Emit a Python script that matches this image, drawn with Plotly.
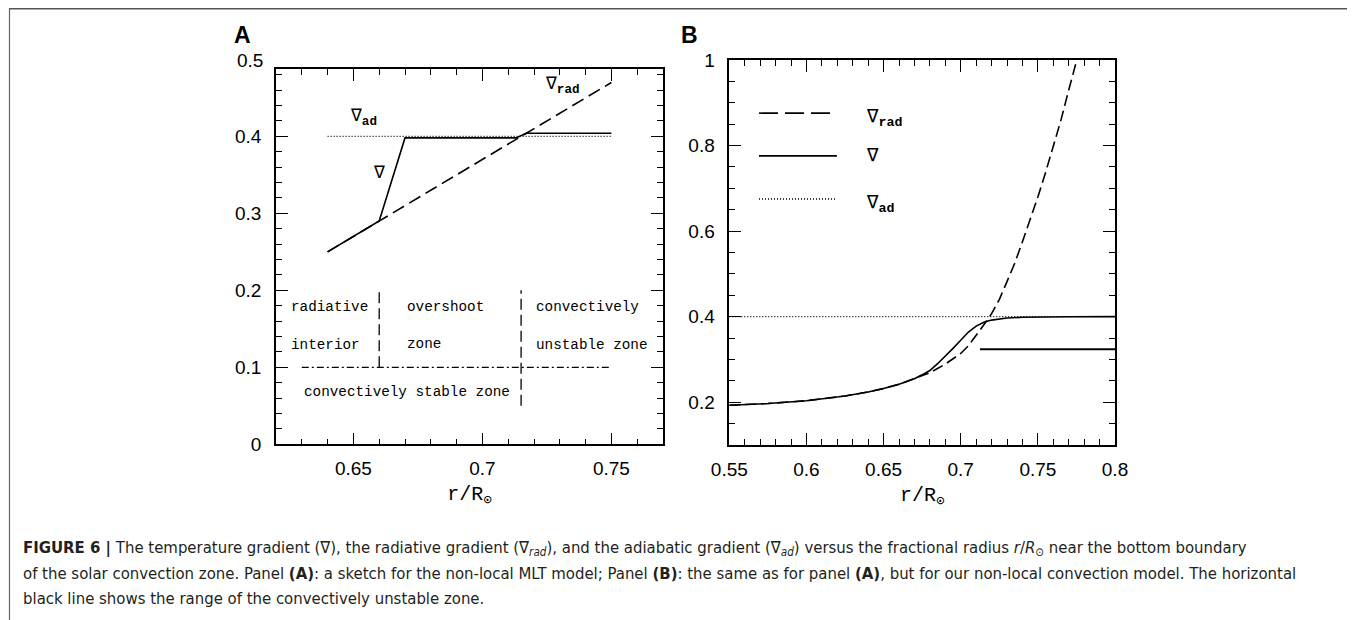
import plotly.graph_objects as go

# ---------------- data: panel A (sketch, non-local MLT) ----------------
a_rad_x = [0.64, 0.75]
a_rad_y = [0.25, 0.47]
a_grad_x = [0.64, 0.66, 0.67, 0.713, 0.717, 0.75]
a_grad_y = [0.25, 0.29, 0.398, 0.398, 0.404, 0.404]
a_ad_x = [0.64, 0.75]
a_ad_y = [0.40, 0.40]
a_stable_x = [0.63, 0.75]
a_stable_y = [0.10, 0.10]
a_div1_x = [0.66, 0.66]
a_div1_y = [0.10, 0.20]
a_div2_x = [0.715, 0.715]
a_div2_y = [0.05, 0.20]
a_zone_text = ["radiative", "interior", "overshoot", "zone", "convectively",
               "unstable zone", "convectively stable zone"]
a_zone_x = [0.625, 0.625, 0.670, 0.670, 0.720, 0.720, 0.630]
a_zone_y = [0.178, 0.129, 0.178, 0.130, 0.178, 0.129, 0.068]

# ---------------- data: panel B (non-local convection model) ----------------
b_rad_x = [0.55, 0.575, 0.60, 0.625, 0.64, 0.65, 0.66, 0.67, 0.68, 0.69, 0.70,
           0.705, 0.71, 0.715, 0.72, 0.725, 0.73, 0.735, 0.74, 0.745, 0.75,
           0.755, 0.76, 0.765, 0.77, 0.776]
b_rad_y = [0.193, 0.197, 0.2035, 0.2145, 0.2240, 0.232, 0.242, 0.255, 0.269,
           0.289, 0.314, 0.332, 0.356, 0.381, 0.407, 0.440, 0.482, 0.525, 0.575,
           0.625, 0.680, 0.737, 0.797, 0.860, 0.930, 1.010]
b_grad_x = [0.55, 0.575, 0.60, 0.625, 0.64, 0.65, 0.66, 0.67, 0.675, 0.68, 0.685,
            0.69, 0.695, 0.70, 0.705, 0.71, 0.715, 0.72, 0.725, 0.73, 0.74, 0.75,
            0.77, 0.80]
b_grad_y = [0.193, 0.197, 0.2035, 0.2145, 0.2240, 0.232, 0.242, 0.255, 0.264,
            0.274, 0.290, 0.307, 0.326, 0.345, 0.364, 0.378, 0.387, 0.392, 0.395,
            0.397, 0.3985, 0.3993, 0.3998, 0.400]
b_ad_x = [0.55, 0.80]
b_ad_y = [0.40, 0.40]
b_unstable_x = [0.7125, 0.80]
b_unstable_y = [0.324, 0.324]
b_legend_text = ["∇<sub><b>rad</b></sub>", "∇", "∇<sub><b>ad</b></sub>"]

# axis ranges
a_xrange = [0.62, 0.77]
a_yrange = [0.0, 0.4875]
b_xrange = [0.55, 0.80]
b_yrange = [0.10, 1.00]

# the page body has an 8px margin: the figure is laid out in page pixels minus 8
OFF = 8
W, H = 1355 - OFF, 620 - OFF


def fx(p):
    return (p - OFF) / W


def fy(p):
    return 1 - (p - OFF) / H


MONO = "Liberation Mono, DejaVu Sans Mono, monospace"
SANS = "Liberation Sans, Arial, Helvetica, sans-serif"
NARROW = "Liberation Sans Narrow, DejaVu Sans Condensed, Roboto Condensed, Liberation Sans, sans-serif"
BLACK = "black"

fig = go.Figure()


def line(x, y, dash, xa="x", ya="y", width=1.6):
    fig.add_trace(go.Scatter(x=x, y=y, mode="lines", xaxis=xa, yaxis=ya,
                             line=dict(color=BLACK, width=width, dash=dash),
                             showlegend=False, hoverinfo="skip"))


# panel A
line(a_ad_x, a_ad_y, "1px,2px", width=1.3)
line(a_rad_x, a_rad_y, "13px,6px")
line(a_grad_x, a_grad_y, "solid")
line(a_stable_x, a_stable_y, "7px,3px,2px,3px", width=1.2)
line(a_div1_x, a_div1_y, "11px,5px", width=1.3)
line(a_div2_x, a_div2_y, "11px,5px", width=1.3)

# panel B
line(b_ad_x, b_ad_y, "1px,2px", "x2", "y2", width=1.3)
line(b_rad_x, b_rad_y, "11px,5px", "x2", "y2")
line(b_grad_x, b_grad_y, "solid", "x2", "y2")
line(b_unstable_x, b_unstable_y, "solid", "x2", "y2", width=2)

minor_common = dict(ticks="inside", ticklen=6, tickwidth=1.2, tickcolor=BLACK, showgrid=False)
axis_common = dict(
    showline=True, linecolor=BLACK, linewidth=1.5, mirror="ticks",
    ticks="inside", ticklen=12, tickwidth=1.2, tickcolor=BLACK,
    showgrid=False, zeroline=False, automargin=False,
    tickfont=dict(family=SANS, size=19, color=BLACK),
)

title_font = dict(family=MONO, size=20, color=BLACK)

fig.update_layout(
    width=W, height=H,
    margin=dict(l=0, r=0, t=0, b=0, pad=0, autoexpand=False),
    paper_bgcolor="white", plot_bgcolor="white",
    showlegend=False,
    xaxis=dict(axis_common, domain=[fx(276), fx(663)], range=a_xrange, anchor="y",
               tick0=0, dtick=0.05, minor=dict(minor_common, dtick=0.01, tick0=0),
               ticklabelstandoff=6,
               title=dict(text="r/R<sub>⊙</sub>", font=title_font, standoff=8)),
    yaxis=dict(axis_common, domain=[fy(444.3), fy(69)], range=a_yrange, anchor="x",
               tick0=0, dtick=0.1, minor=dict(minor_common, dtick=0.02, tick0=0),
               ticklabelstandoff=9),
    xaxis2=dict(axis_common, domain=[fx(729.3), fx(1115)], range=b_xrange, anchor="y2",
                tick0=0, dtick=0.05, minor=dict(minor_common, dtick=0.01, tick0=0),
                ticklabelstandoff=6,
                title=dict(text="r/R<sub>⊙</sub>", font=title_font, standoff=8)),
    yaxis2=dict(axis_common, domain=[fy(445), fy(60)], range=b_yrange, anchor="x2",
                tick0=0, dtick=0.2, minor=dict(minor_common, dtick=0.05, tick0=0),
                ticklabelstandoff=9),
)

ann = []
# "0.5" label of panel A (sits just above the frame top)
ann.append(dict(text="0.5", x=0, xref="x domain", y=0.5 / a_yrange[1], yref="y domain",
                xanchor="right", yanchor="middle", xshift=-11, yshift=-1, showarrow=False,
                font=dict(family=SANS, size=19, color=BLACK)))
# zone labels
for t, x, y in zip(a_zone_text, a_zone_x, a_zone_y):
    ann.append(dict(text=t, x=x, y=y, xref="x", yref="y", xanchor="left", yanchor="middle",
                    showarrow=False, font=dict(family=MONO, size=14.3, color=BLACK)))
# curve labels panel A
ann.append(dict(text="∇<sub><b>ad</b></sub>", x=0.648, y=0.425, xref="x", yref="y",
                xanchor="left", yanchor="middle", showarrow=False,
                font=dict(family=MONO, size=18, color=BLACK)))
ann.append(dict(text="∇", x=0.66, y=0.352, xref="x", yref="y",
                xanchor="center", yanchor="middle", showarrow=False,
                font=dict(family=MONO, size=18, color=BLACK)))
ann.append(dict(text="∇<sub><b>rad</b></sub>", x=0.7236, y=0.466, xref="x", yref="y",
                xanchor="left", yanchor="middle", showarrow=False,
                font=dict(family=MONO, size=18, color=BLACK)))

# legend of panel B
leg_dash = ["19px,7px", "solid", "1px,2px"]
leg_y = [0.862, 0.751, 0.639]
shapes = []
for d, yy, t in zip(leg_dash, leg_y, b_legend_text):
    shapes.append(dict(type="line", xref="x2 domain", yref="y2 domain", x0=0.077, x1=0.279,
                       y0=yy, y1=yy,
                       line=dict(color=BLACK, width=1.6 if d != "1px,2px" else 1.3, dash=d)))
    ann.append(dict(text=t, x=0.349, y=yy, xref="x2 domain", yref="y2 domain",
                    xanchor="left", yanchor="middle", showarrow=False,
                    yshift=-5 if "sub" in t else 0,
                    font=dict(family=MONO, size=19, color=BLACK)))

# panel letters
ann.append(dict(text="<b>A</b>", x=fx(232), y=fy(35), xref="paper", yref="paper",
                xanchor="left", yanchor="middle", showarrow=False,
                font=dict(family=SANS, size=23, color=BLACK)))
ann.append(dict(text="<b>B</b>", x=fx(679), y=fy(35), xref="paper", yref="paper",
                xanchor="left", yanchor="middle", showarrow=False,
                font=dict(family=SANS, size=23, color=BLACK)))

# caption
cap = [
    "<b>FIGURE 6 |</b> The temperature gradient (∇), the radiative gradient (∇<sub><i>rad</i></sub>), and the adiabatic gradient (∇<sub><i>ad</i></sub>) versus the fractional radius <i>r</i>/<i>R</i><sub>⊙</sub> near the bottom boundary",
    "of the solar convection zone. Panel <b>(A)</b>: a sketch for the non-local MLT model; Panel <b>(B)</b>: the same as for panel <b>(A)</b>, but for our non-local convection model. The horizontal",
    "black line shows the range of the convectively unstable zone.",
]
cap_y = [548, 573, 598]
for t, yy in zip(cap, cap_y):
    ann.append(dict(text=t, x=fx(21), y=fy(yy), xref="paper", yref="paper",
                    xanchor="left", yanchor="middle", showarrow=False,
                    font=dict(family=NARROW, size=16.6, color="#231f20")))

# figure frame (top, left, right)
shapes.append(dict(type="line", xref="paper", yref="paper", x0=fx(9), x1=1, y0=fy(8.5),
                   y1=fy(8.5), line=dict(color="#555555", width=2)))
shapes.append(dict(type="line", xref="paper", yref="paper", x0=fx(9.5), x1=fx(9.5), y0=0,
                   y1=fy(8), line=dict(color="#666666", width=1.2)))
shapes.append(dict(type="line", xref="paper", yref="paper", x0=fx(1353.5), x1=fx(1353.5), y0=0,
                   y1=fy(8), line=dict(color="#666666", width=1.2)))

fig.update_layout(annotations=ann, shapes=shapes)
fig.write_html("out.html")
